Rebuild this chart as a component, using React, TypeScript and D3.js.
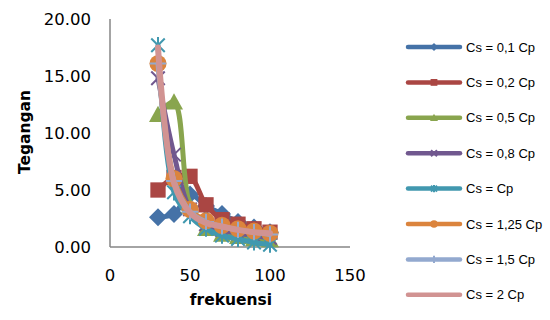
import * as d3 from "d3";

// frequencies (x) shared by every series
const freq = [30, 40, 50, 60, 70, 80, 90, 100];

const cs01 = [2.6, 2.9, 4.6, 3.6, 2.9, 2.2, 1.7, 1.3];
const cs02 = [5.0, 6.1, 6.2, 3.7, 2.4, 2.0, 1.6, 1.3];
const cs05 = [11.6, 12.7, 3.6, 1.6, 1.1, 0.9, 0.7, 0.6];
const cs08 = [14.8, 8.1, 3.3, 2.0, 1.5, 1.2, 1.0, 0.8];
const csCp = [17.7, 4.8, 2.7, 1.6, 1.0, 0.7, 0.4, 0.2];
const cs125 = [16.1, 6.0, 3.3, 2.3, 1.9, 1.6, 1.4, 1.2];
const cs15 = [16.1, 5.8, 3.1, 2.2, 1.8, 1.5, 1.3, 1.1];
const cs2 = [17.5, 5.6, 3.0, 2.1, 1.8, 1.5, 1.3, 1.2];

const seriesNames = [
  "Cs = 0,1 Cp",
  "Cs = 0,2 Cp",
  "Cs = 0,5 Cp",
  "Cs = 0,8 Cp",
  "Cs = Cp",
  "Cs = 1,25 Cp",
  "Cs = 1,5 Cp",
  "Cs = 2 Cp",
];
const seriesValues = [cs01, cs02, cs05, cs08, csCp, cs125, cs15, cs2];
const colors = [
  "#4572A7",
  "#AA4643",
  "#89A54E",
  "#71588F",
  "#4198AF",
  "#DB843D",
  "#93A9CF",
  "#D19392",
];
const markers = ["diamond", "square", "triangle", "x", "star", "circle", "plus", "none"];

const yTicks = [0, 5, 10, 15, 20];
const xTicks = [0, 50, 100, 150];

/** svg dimensions */
const width = 550;
const height = 320;

const xScale = d3.scaleLinear().domain([0, 150]).range([110, 350]);
const yScale = d3.scaleLinear().domain([0, 20]).range([247, 19]);

const tickFont = "'DejaVu Sans', sans-serif";
const legendFont = "'Liberation Sans', Arial, sans-serif";

const Marker = ({ kind, x, y, s, color }: { kind: string; x: number; y: number; s: number; color: string }) => {
  const h = s / 2;
  switch (kind) {
    case "diamond":
      return <path d={`M${x},${y - h}L${x + h},${y}L${x},${y + h}L${x - h},${y}Z`} fill={color} />;
    case "square":
      return <rect x={x - h * 0.85} y={y - h * 0.85} width={s * 0.85} height={s * 0.85} fill={color} />;
    case "triangle":
      return <path d={`M${x},${y - h}L${x + h},${y + h * 0.8}L${x - h},${y + h * 0.8}Z`} fill={color} />;
    case "circle":
      return <circle cx={x} cy={y} r={h * 0.95} fill={color} />;
    case "x":
      return (
        <path
          d={`M${x - h * 0.75},${y - h * 0.75}L${x + h * 0.75},${y + h * 0.75}M${x - h * 0.75},${y + h * 0.75}L${x + h * 0.75},${y - h * 0.75}`}
          stroke={color}
          strokeWidth={2}
        />
      );
    case "star":
      return (
        <path
          d={`M${x - h * 0.75},${y - h * 0.75}L${x + h * 0.75},${y + h * 0.75}M${x - h * 0.75},${y + h * 0.75}L${x + h * 0.75},${y - h * 0.75}M${x},${y - h * 0.9}L${x},${y + h * 0.9}`}
          stroke={color}
          strokeWidth={2}
        />
      );
    case "plus":
      return (
        <path d={`M${x - h * 0.9},${y}L${x + h * 0.9},${y}M${x},${y - h * 0.9}L${x},${y + h * 0.9}`} stroke={color} strokeWidth={2} />
      );
    default:
      return null;
  }
};

const App = () => {
  const line = d3
    .line<number>()
    .x((_, i) => xScale(freq[i]))
    .y((d) => yScale(d))
    .curve(d3.curveCatmullRom.alpha(0.5));

  const legendTop = 47;
  const legendStep = 35.4;

  return (
    <svg width={width} height={height} style={{ position: "absolute", left: 0, top: 0, background: "#fff" }}>
      {/* axes */}
      <line x1={110} x2={110} y1={19} y2={247} stroke="#868686" strokeWidth={1.5} />
      <line x1={110} x2={350} y1={247} y2={247} stroke="#868686" strokeWidth={1.5} />

      {yTicks.map((t) => (
        <text
          key={t}
          x={91}
          y={yScale(t)}
          textAnchor="end"
          dominantBaseline="central"
          fontSize={16.5}
          fontFamily={tickFont}
        >
          {t.toFixed(2)}
        </text>
      ))}
      {xTicks.map((t) => (
        <text
          key={t}
          x={xScale(t)}
          y={275}
          textAnchor="middle"
          dominantBaseline="central"
          fontSize={16.5}
          fontFamily={tickFont}
        >
          {t}
        </text>
      ))}

      <text
        x={0}
        y={0}
        transform={`translate(25, 132) rotate(-90)`}
        textAnchor="middle"
        dominantBaseline="central"
        fontSize={15.5}
        fontWeight="bold"
        fontFamily={tickFont}
      >
        Tegangan
      </text>
      <text
        x={231}
        y={300}
        textAnchor="middle"
        dominantBaseline="central"
        fontSize={15.5}
        fontWeight="bold"
        fontFamily={tickFont}
      >
        frekuensi
      </text>

      {/* series */}
      {seriesValues.map((vals, si) => (
        <g key={si}>
          <path
            d={line(vals) ?? ""}
            fill="none"
            stroke={colors[si]}
            strokeWidth={si === 7 ? 6 : 5}
            strokeLinejoin="round"
            strokeLinecap="round"
          />
          {vals.map((v, i) => (
            <Marker key={i} kind={markers[si]} x={xScale(freq[i])} y={yScale(v)} s={18} color={colors[si]} />
          ))}
        </g>
      ))}

      {/* legend */}
      {seriesNames.map((name, si) => {
        const y = legendTop + si * legendStep;
        return (
          <g key={name}>
            <line x1={408} x2={460} y1={y} y2={y} stroke={colors[si]} strokeWidth={4.5} strokeLinecap="round" />
            <Marker kind={markers[si]} x={434} y={y} s={8} color={colors[si]} />
            <text x={466} y={y} dominantBaseline="central" fontSize={13} fontFamily={legendFont}>
              {name}
            </text>
          </g>
        );
      })}
    </svg>
  );
};

export default App;
